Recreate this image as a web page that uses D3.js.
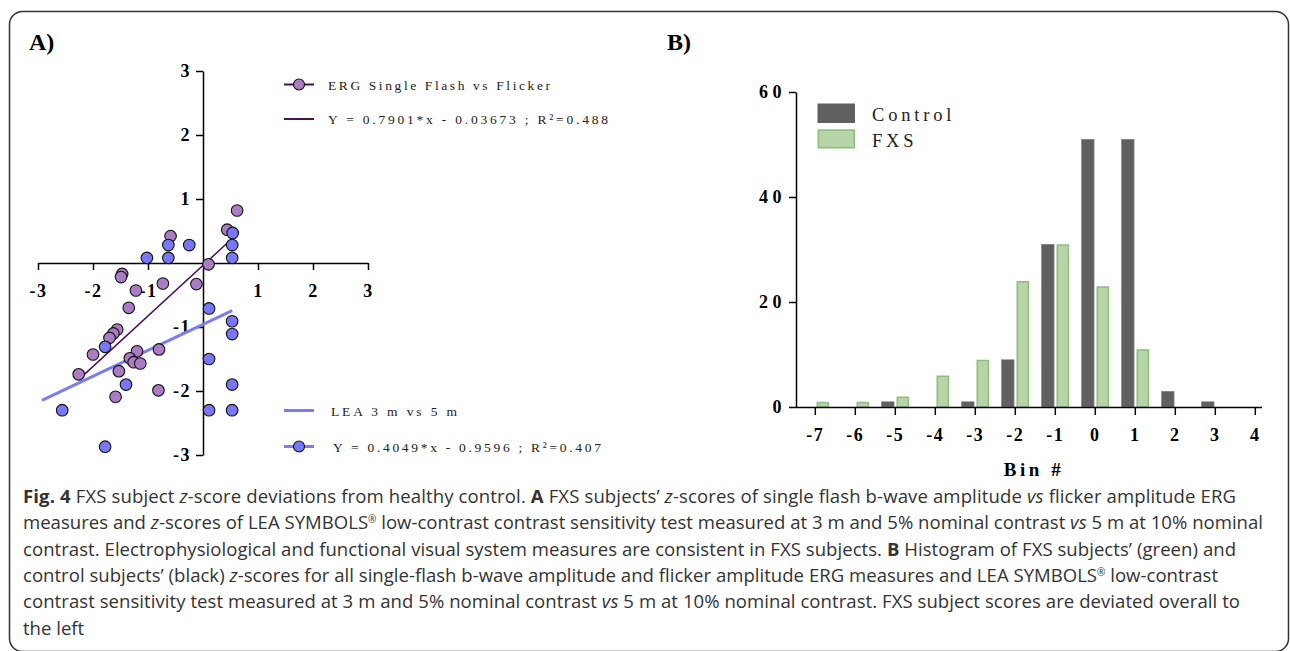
<!DOCTYPE html>
<html><head><meta charset="utf-8">
<script src="https://cdn.jsdelivr.net/npm/d3@7"></script>
<style>
body{margin:0;background:#fff}
svg{display:block}
.ser{font-family:"Liberation Serif","Times New Roman",serif}
.tk{font-family:"Liberation Serif","Times New Roman",serif;font-weight:bold}
.cap{font-family:"Open Sans",sans-serif}
</style>
</head><body>
<svg id="c" width="1290" height="651"></svg>
<script>
// ---------- Panel A data (z-scores) ----------
const ergX = [0.62, 0.44, -0.59, 0.10, -1.47, -1.49, -1.22, -0.73, -0.12, -1.35, -1.56, -1.63, -1.70, -2.00, -1.20, -1.33, -1.26, -1.14, -0.80, -1.53, -2.26, -0.81, -1.59];
const ergY = [0.82, 0.52, 0.42, -0.02, -0.17, -0.22, -0.43, -0.32, -0.33, -0.70, -1.04, -1.10, -1.17, -1.43, -1.38, -1.49, -1.55, -1.57, -1.35, -1.69, -1.74, -1.99, -2.09];
const leaX = [0.54, -0.63, -0.25, 0.53, -1.02, -0.63, 0.53, 0.11, 0.53, 0.53, -1.78, 0.11, -1.40, 0.53, -2.56, 0.11, 0.53, -1.78];
const leaY = [0.47, 0.28, 0.28, 0.28, 0.08, 0.08, 0.08, -0.71, -0.91, -1.11, -1.31, -1.50, -1.90, -1.90, -2.30, -2.30, -2.30, -2.87];
const ergFitCoef = [0.7901, -0.03673];   // slope, intercept
const ergFitRange = [-2.23, 0.53];
const leaFitCoef = [0.4049, -0.9596];
const leaFitRange = [-2.93, 0.53];
const xTicksA = [-3, -2, -1, 1, 2, 3];
const yTicksA = [3, 2, 1, -1, -2, -3];
const legendA = ["ERG Single Flash vs Flicker", "Y = 0.7901*x - 0.03673 ; R\u00B2=0.488", "LEA 3 m vs 5 m", "Y = 0.4049*x - 0.9596 ; R\u00B2=0.407"];

// ---------- Panel B data (histogram) ----------
const bins = [-7, -6, -5, -4, -3, -2, -1, 0, 1, 2, 3, 4];
const controlCounts = [0, 0, 1, 0, 1, 9, 31, 51, 51, 3, 1, 0];
const fxsCounts = [1, 1, 2, 6, 9, 24, 31, 23, 11, 0, 0, 0];
const groups = ["Control", "FXS"];
const yTicksB = [0, 20, 40, 60];

// ---------- Caption ----------
const captionLines = [
  [["b","Fig. 4"],["n"," FXS subject "],["i","z"],["n","-score deviations from healthy control. "],["b","A"],["n"," FXS subjects\u2019 "],["i","z"],["n","-scores of single flash b-wave amplitude "],["i","vs"],["n"," flicker amplitude ERG"]],
  [["n","measures and "],["i","z"],["n","-scores of LEA SYMBOLS"],["s","\u00AE"],["n"," low-contrast contrast sensitivity test measured at 3 m and 5% nominal contrast "],["i","vs"],["n"," 5 m at 10% nominal"]],
  [["n","contrast. Electrophysiological and functional visual system measures are consistent in FXS subjects. "],["b","B"],["n"," Histogram of FXS subjects\u2019 (green) and"]],
  [["n","control subjects\u2019 (black) "],["i","z"],["n","-scores for all single-flash b-wave amplitude and flicker amplitude ERG measures and LEA SYMBOLS"],["s","\u00AE"],["n"," low-contrast"]],
  [["n","contrast sensitivity test measured at 3 m and 5% nominal contrast "],["i","vs"],["n"," 5 m at 10% nominal contrast. FXS subject scores are deviated overall to"]],
  [["n","the left"]]
];
const captionEnds = [1236, 1263, 1236, 1218, 1240, null];

const svg = d3.select("#c");
const ergFill = "#a97cc4", leaFill = "#7878f6", ergLine = "#4a0f5c", leaLine = "#7d7df2";

// frame
svg.append("rect").attr("x", 9.5).attr("y", 11.5).attr("width", 1279).attr("height", 640)
  .attr("rx", 13).attr("fill", "none").attr("stroke", "#333").attr("stroke-width", 1.5);

// panel labels
svg.append("text").attr("class","tk").attr("x", 29).attr("y", 50).attr("font-size", 24).text("A)");
svg.append("text").attr("class","tk").attr("x", 667).attr("y", 50).attr("font-size", 24).text("B)");

// ---------- Panel A ----------
const xA = d3.scaleLinear().domain([-3, 3]).range([38, 368]);
const yA = d3.scaleLinear().domain([-3, 3]).range([455, 71]);
const gA = svg.append("g");

function styleAxis(g, fs, ls) {
  g.attr("font-family", null).attr("font-size", null);
  g.select(".domain").attr("stroke", "#000").attr("stroke-width", 1.5);
  g.selectAll(".tick line").attr("stroke", "#000").attr("stroke-width", 1.5);
  g.selectAll(".tick text").attr("class","tk").attr("fill", "#000")
    .style("font-size", fs + "px").style("font-weight", "bold").attr("letter-spacing", ls);
}

const gxA = gA.append("g").attr("transform", `translate(0,${yA(0)})`)
  .call(d3.axisBottom(xA).tickValues(xTicksA).tickSize(7).tickSizeOuter(0).tickPadding(14).tickFormat(d => String(d)));
styleAxis(gxA, 18, 1.5);
const gyA = gA.append("g").attr("transform", `translate(${xA(0)},0)`)
  .call(d3.axisLeft(yA).tickValues(yTicksA).tickSize(7).tickSizeOuter(0).tickPadding(5).tickFormat(d => String(d)));
styleAxis(gyA, 18, 1.5);

// fit lines
const line = d3.line().x(d => xA(d[0])).y(d => yA(d[1]));
gA.append("path").datum(leaFitRange.map(x => [x, leaFitCoef[0]*x + leaFitCoef[1]]))
  .attr("d", line).attr("stroke", leaLine).attr("stroke-width", 3).attr("fill", "none");
gA.append("path").datum(ergFitRange.map(x => [x, ergFitCoef[0]*x + ergFitCoef[1]]))
  .attr("d", line).attr("stroke", ergLine).attr("stroke-width", 1.5).attr("fill", "none");

// points
gA.append("g").selectAll("circle").data(ergX.map((x, i) => [x, ergY[i]])).join("circle")
  .attr("cx", d => xA(d[0])).attr("cy", d => yA(d[1])).attr("r", 5.8)
  .attr("fill", ergFill).attr("stroke", "#111").attr("stroke-width", 1.1);
gA.append("g").selectAll("circle").data(leaX.map((x, i) => [x, leaY[i]])).join("circle")
  .attr("cx", d => xA(d[0])).attr("cy", d => yA(d[1])).attr("r", 5.8)
  .attr("fill", leaFill).attr("stroke", "#111").attr("stroke-width", 1.1);

// legend A
const legA = [
  {y: 84.5, col: ergLine, w: 2, dot: ergFill, tx: 328, len: 222},
  {y: 119, col: ergLine, w: 2, dot: null, tx: 328, len: 280},
  {y: 410.5, col: leaLine, w: 3, dot: null, tx: 331, len: 126},
  {y: 446.5, col: leaLine, w: 3, dot: leaFill, tx: 333, len: 268}
];
legA.forEach((L, i) => {
  gA.append("line").attr("x1", 284).attr("x2", 314).attr("y1", L.y).attr("y2", L.y)
    .attr("stroke", L.col).attr("stroke-width", L.w);
  if (L.dot) gA.append("circle").attr("cx", 299).attr("cy", L.y).attr("r", 5.5)
    .attr("fill", L.dot).attr("stroke", "#111").attr("stroke-width", 1.1);
  gA.append("text").attr("class","ser").attr("x", L.tx).attr("y", L.y + 5)
    .attr("font-size", 13.5).attr("fill", "#222")
    .attr("textLength", L.len).attr("lengthAdjust", "spacing").text(legendA[i]);
});

// ---------- Panel B ----------
const x0 = d3.scaleBand().domain(bins).range([795.3, 1275.3]).padding(0);
const x1 = d3.scaleBand().domain(groups).range([6.1, 33.9]).paddingInner(0.16);
const yB = d3.scaleLinear().domain([0, 60]).range([407, 92]);
const gB = svg.append("g");

const rows = bins.map((b, i) => ({bin: b, Control: controlCounts[i], FXS: fxsCounts[i]}));
const barG = gB.append("g");
rows.forEach(r => {
  groups.forEach(g => {
    const v = r[g];
    if (!v) return;
    const bx = x0(r.bin) + x1(g), bw = x1.bandwidth();
    if (g === "Control") {
      barG.append("rect").attr("x", bx).attr("y", yB(v)).attr("width", bw).attr("height", yB(0) - yB(v))
        .attr("fill", "#606060").attr("stroke", "#8a8a8a").attr("stroke-width", 0.6);
    } else {
      barG.append("rect").attr("x", bx + 0.75).attr("y", yB(v) + 0.75).attr("width", bw - 1.5).attr("height", yB(0) - yB(v) - 0.75)
        .attr("fill", "#b6d4a7").attr("stroke", "#8cbf7c").attr("stroke-width", 1.5);
    }
  });
});

const gyB = gB.append("g").attr("transform", `translate(796,0)`)
  .call(d3.axisLeft(yB).tickValues(yTicksB).tickSize(7).tickSizeOuter(0).tickPadding(3).tickFormat(d => String(d)));
styleAxis(gyB, 18, 4.5);
const gxB = gB.append("g").attr("transform", `translate(0,${yB(0)})`)
  .call(d3.axisBottom(x0).tickValues(bins).tickSize(8).tickSizeOuter(0).tickPadding(13).tickFormat(d => String(d)));
gxB.select(".domain").attr("d", `M796,0.5H1262`);
styleAxis(gxB, 18, 1.5);

// legend B
gB.append("rect").attr("x", 817.5).attr("y", 103.5).attr("width", 37.5).attr("height", 19.5).attr("fill", "#606060");
gB.append("rect").attr("x", 818.3).attr("y", 130.1).attr("width", 36).attr("height", 17.6)
  .attr("fill", "#b6d4a7").attr("stroke", "#8cbf7c").attr("stroke-width", 1.6);
gB.append("text").attr("class","ser").attr("x", 872).attr("y", 120.5).attr("font-size", 18.5).attr("fill","#222")
  .attr("letter-spacing", 3.8).text(groups[0]);
gB.append("text").attr("class","ser").attr("x", 872).attr("y", 146.5).attr("font-size", 18.5).attr("fill","#222")
  .attr("letter-spacing", 3.8).text(groups[1]);
gB.append("text").attr("class","tk").attr("x", 1034).attr("y", 476).attr("text-anchor","middle")
  .attr("font-size", 19).attr("letter-spacing", 3.5).text("Bin #");

// ---------- Caption ----------
const capG = svg.append("g").attr("class","cap").attr("fill", "#333");
const fs = 17;
const texts = captionLines.map((segs, li) => {
  const t = capG.append("text").attr("x", 23).attr("y", 503 + 26.3 * li).attr("font-size", fs);
  let afterSup = false;
  segs.forEach(([k, s]) => {
    const ts = t.append("tspan").text(s);
    if (k === "b") ts.attr("font-weight", "bold");
    if (k === "i") ts.attr("font-style", "italic");
    if (k === "s") { ts.attr("font-size", 10).attr("dy", -6); afterSup = true; return; }
    if (afterSup) { ts.attr("dy", 6); afterSup = false; }
  });
  return t;
});
const w2 = texts[1].node().getComputedTextLength();
const scale = (captionEnds[1] - 23) / w2;
texts.forEach((t, i) => {
  t.attr("font-size", fs * scale);
  if (captionEnds[i]) t.attr("textLength", captionEnds[i] - 23).attr("lengthAdjust", "spacing");
});
</script>
</body></html>
